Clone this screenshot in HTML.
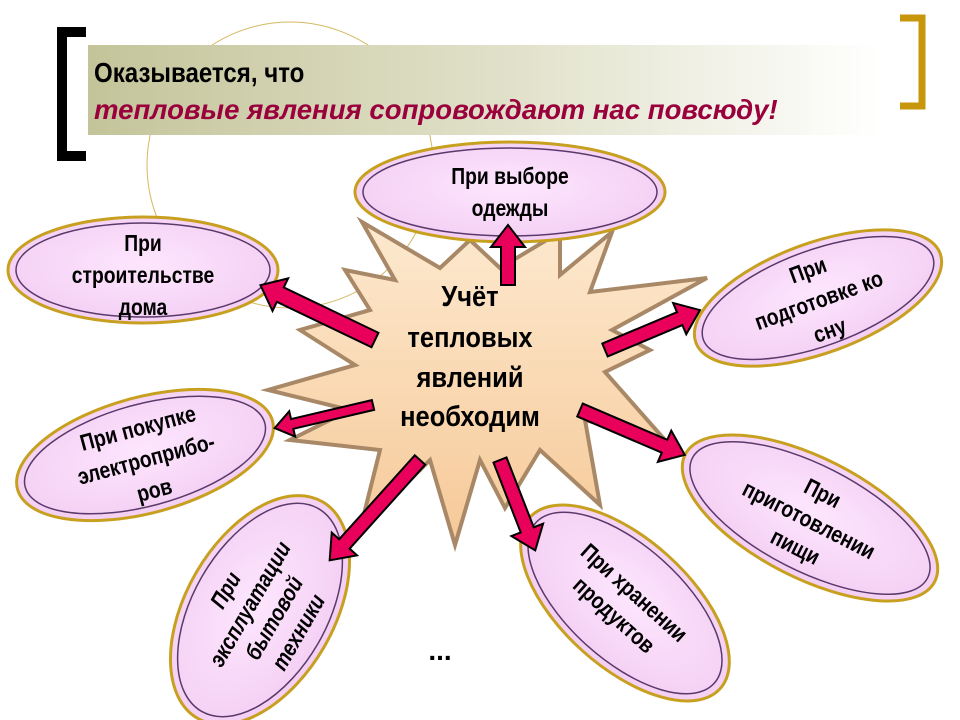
<!DOCTYPE html>
<html><head><meta charset="utf-8"><style>
html,body{margin:0;padding:0;background:#fff;}
svg{display:block;}
text{font-family:"Liberation Sans",sans-serif;font-weight:bold;}
</style></head><body>
<svg width="960" height="720" viewBox="0 0 960 720" xmlns="http://www.w3.org/2000/svg">
<defs>
<linearGradient id="hb" x1="0" x2="1" y1="0" y2="0">
<stop offset="0" stop-color="#c4c49a"/><stop offset="0.55" stop-color="#e2e2cc"/><stop offset="1" stop-color="#ffffff"/>
</linearGradient>
<radialGradient id="ef" cx="0.5" cy="0.45" r="0.6">
<stop offset="0" stop-color="#fde6fd"/><stop offset="1" stop-color="#f3cdf3"/>
</radialGradient>
<linearGradient id="sf" x1="0" y1="0" x2="0" y2="1">
<stop offset="0" stop-color="#fde9cf"/><stop offset="1" stop-color="#f6c998"/>
</linearGradient>
</defs>
<circle cx="290" cy="165" r="143" fill="none" stroke="#d4b860" stroke-width="1"/>
<rect x="88" y="45" width="792" height="90" fill="url(#hb)"/>
<path d="M86,32 H62 V156 H86" fill="none" stroke="#000" stroke-width="10"/>
<path d="M900,18 H922 V106 H900" fill="none" stroke="#c8960a" stroke-width="7"/>
<g transform="translate(94,0) scale(0.86,1)">
<text x="0" y="82" font-size="28" fill="#000">Оказывается, что</text>
<text x="0" y="119" font-size="28" fill="#99003c" font-style="italic" textLength="795" lengthAdjust="spacingAndGlyphs">тепловые явления сопровождают нас повсюду!</text>
</g>

<polygon points="362,222 440,268 470,240 500,268 560,232 560,275 612,232 590,292 707,278 612,330 650,350 605,372 665,440 585,420 600,505 540,450 505,508 480,460 455,545 430,460 360,530 380,450 290,440 350,410 268,390 355,365 300,330 370,310 345,270 395,280" fill="url(#sf)" stroke="#a88866" stroke-width="4" stroke-linejoin="miter"/>

<g transform="translate(510,192)">
<ellipse rx="155" ry="50" fill="url(#ef)" stroke="#c8a020" stroke-width="3"/>
<ellipse rx="147" ry="44" fill="none" stroke="#5a3a6a" stroke-width="1.5"/>
<g transform="scale(0.84,1)" font-size="23">
<text y="-8" text-anchor="middle">При выборе</text>
<text y="24" text-anchor="middle">одежды</text></g>
</g>
<g transform="translate(143,270)">
<ellipse rx="135" ry="53" fill="url(#ef)" stroke="#c8a020" stroke-width="3"/>
<ellipse rx="127" ry="47" fill="none" stroke="#5a3a6a" stroke-width="1.5"/>
<g transform="scale(0.84,1)" font-size="23">
<text y="-19" text-anchor="middle">При</text>
<text y="13" text-anchor="middle">строительстве</text>
<text y="45" text-anchor="middle">дома</text></g>
</g>
<g transform="translate(818,298) rotate(-20)">
<ellipse rx="130" ry="55" fill="url(#ef)" stroke="#c8a020" stroke-width="3"/>
<ellipse rx="122" ry="48" fill="none" stroke="#5a3a6a" stroke-width="1.5"/>
<g transform="scale(0.84,1)" font-size="23">
<text y="-22" text-anchor="middle">При</text>
<text y="10" text-anchor="middle">подготовке ко</text>
<text y="42" text-anchor="middle">сну</text></g>
</g>
<g transform="translate(145,455) rotate(-15)">
<ellipse rx="132" ry="58" fill="url(#ef)" stroke="#c8a020" stroke-width="3"/>
<ellipse rx="124" ry="51" fill="none" stroke="#5a3a6a" stroke-width="1.5"/>
<g transform="scale(0.84,1)" font-size="23">
<text y="-20" text-anchor="middle">При покупке</text>
<text y="12" text-anchor="middle">электроприбо-</text>
<text y="44" text-anchor="middle">ров</text></g>
</g>
<g transform="translate(260,610) rotate(-60)">
<ellipse rx="125" ry="74" fill="url(#ef)" stroke="#c8a020" stroke-width="3"/>
<ellipse rx="117" ry="67" fill="none" stroke="#5a3a6a" stroke-width="1.5"/>
<g transform="scale(0.84,1)" font-size="23" font-style="italic">
<text y="-32" text-anchor="middle">При</text>
<text y="-4" text-anchor="middle">эксплуатации</text>
<text y="24" text-anchor="middle">бытовой</text>
<text y="52" text-anchor="middle">техники</text></g>
</g>
<g transform="translate(625,603) rotate(42)">
<ellipse rx="128" ry="64" fill="url(#ef)" stroke="#c8a020" stroke-width="3"/>
<ellipse rx="120" ry="57" fill="none" stroke="#5a3a6a" stroke-width="1.5"/>
<g transform="scale(0.84,1)" font-size="23">
<text y="-6" text-anchor="middle">При хранении</text>
<text y="24" text-anchor="middle">продуктов</text></g>
</g>
<g transform="translate(810,518) rotate(27)">
<ellipse rx="140" ry="60" fill="url(#ef)" stroke="#c8a020" stroke-width="3"/>
<ellipse rx="132" ry="53" fill="none" stroke="#5a3a6a" stroke-width="1.5"/>
<g transform="scale(0.84,1)" font-size="23">
<text y="-20" text-anchor="middle">При</text>
<text y="10" text-anchor="middle">приготовлении</text>
<text y="40" text-anchor="middle">пищи</text></g>
</g>

<g transform="translate(470,0) scale(0.88,1)" font-size="29">
<text x="0" y="306" text-anchor="middle">Учёт</text>
<text x="0" y="347" text-anchor="middle">тепловых</text>
<text x="0" y="387" text-anchor="middle">явлений</text>
<text x="0" y="426" text-anchor="middle">необходим</text>
</g>

<g fill="#e8005a" stroke="#000" stroke-width="2" stroke-linejoin="miter">
<polygon transform="translate(508,285) rotate(-90)" points="0,-7 38,-7 38,-17 60,0 38,17 38,7 0,7"/>
<polygon transform="translate(375,340) rotate(205.6)" points="0,-8 105,-8 105,-18 127,0 105,18 105,8 0,8"/>
<polygon transform="translate(605,350) rotate(-22.8)" points="0,-7 81,-7 81,-17 103,0 81,17 81,7 0,7"/>
<polygon transform="translate(373,405) rotate(166.8)" points="0,-5 83,-5 83,-13 101,0 83,13 83,5 0,5"/>
<polygon transform="translate(580,410) rotate(23.2)" points="0,-7 92,-7 92,-17 114,0 92,17 92,7 0,7"/>
<polygon transform="translate(420,460) rotate(132)" points="0,-7 113,-7 113,-17 135,0 113,17 113,7 0,7"/>
<polygon transform="translate(500,460) rotate(68.7)" points="0,-7 75,-7 75,-17 97,0 75,17 75,7 0,7"/>
</g>
<text x="440" y="660" text-anchor="middle" font-size="28">...</text>
</svg>
</body></html>
